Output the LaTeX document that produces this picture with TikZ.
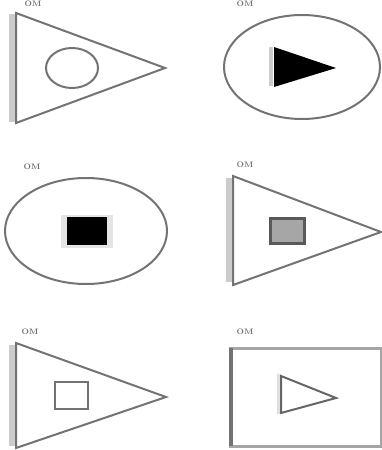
\documentclass[tikz,border=0pt]{standalone}
\begin{document}
\begin{tikzpicture}[x=1pt,y=-1pt,
  edge/.style={draw=black!55,line width=2pt},
  sideedge/.style={draw=black!20,line width=7pt},
  lbl/.style={font=\fontsize{8}{8}\selectfont\bfseries,text=black!55,inner sep=0pt}]
\useasboundingbox (0,0) rectangle (382,450);
% Panel 1
\draw[sideedge] (12,14) -- (12,122);
\draw[edge] (16,13) -- (165,68) -- (16,123) -- cycle;
\node[lbl,anchor=north] (l1) at (33,0.5) {OM};
\draw[edge] (72,68) ellipse [x radius=26, y radius=20];
% Panel 2
\node[lbl,anchor=north] (l2) at (245,0.5) {OM};
\draw[edge] (302,67) ellipse [x radius=78, y radius=52];
\draw[black!20,line width=4pt] (271,47) -- (271,86);
\fill[black] (274,47) -- (336,68) -- (274,87) -- cycle;
% Panel 3
\node[lbl] (l3) at (32,167) {OM};
\draw[edge] (86,231) ellipse [x radius=81, y radius=53];
\fill[black!10] (61,215) rectangle (113,248);
\fill[black] (67,217) rectangle (107,245);
% Panel 4
\node[lbl] (l4) at (245,165) {OM};
\draw[sideedge] (229,178) -- (229,282);
\draw[edge] (233,176) -- (381,232) -- (233,285) -- cycle;
\draw[black!65,line width=3pt,fill=black!35] (270,218) rectangle (304,243);
% Panel 5
\node[lbl] (l5) at (30,332) {OM};
\draw[sideedge] (12,345) -- (12,446);
\draw[edge] (16,343) -- (166,397) -- (16,448) -- cycle;
\draw[black!55,line width=2.5pt] (55,382) rectangle (88,409);
% Panel 6
\node[lbl] (l6) at (245,332) {OM};
\draw[black!35,line width=3pt] (230,348) rectangle (381,446);
\draw[black!55,line width=4pt] (231,348) -- (231,446);
\draw[black!12,line width=4pt] (279,374) -- (279,414);
\draw[black!60,line width=2pt] (281,376) -- (336,398) -- (281,413) -- cycle;
\end{tikzpicture}
\end{document}
